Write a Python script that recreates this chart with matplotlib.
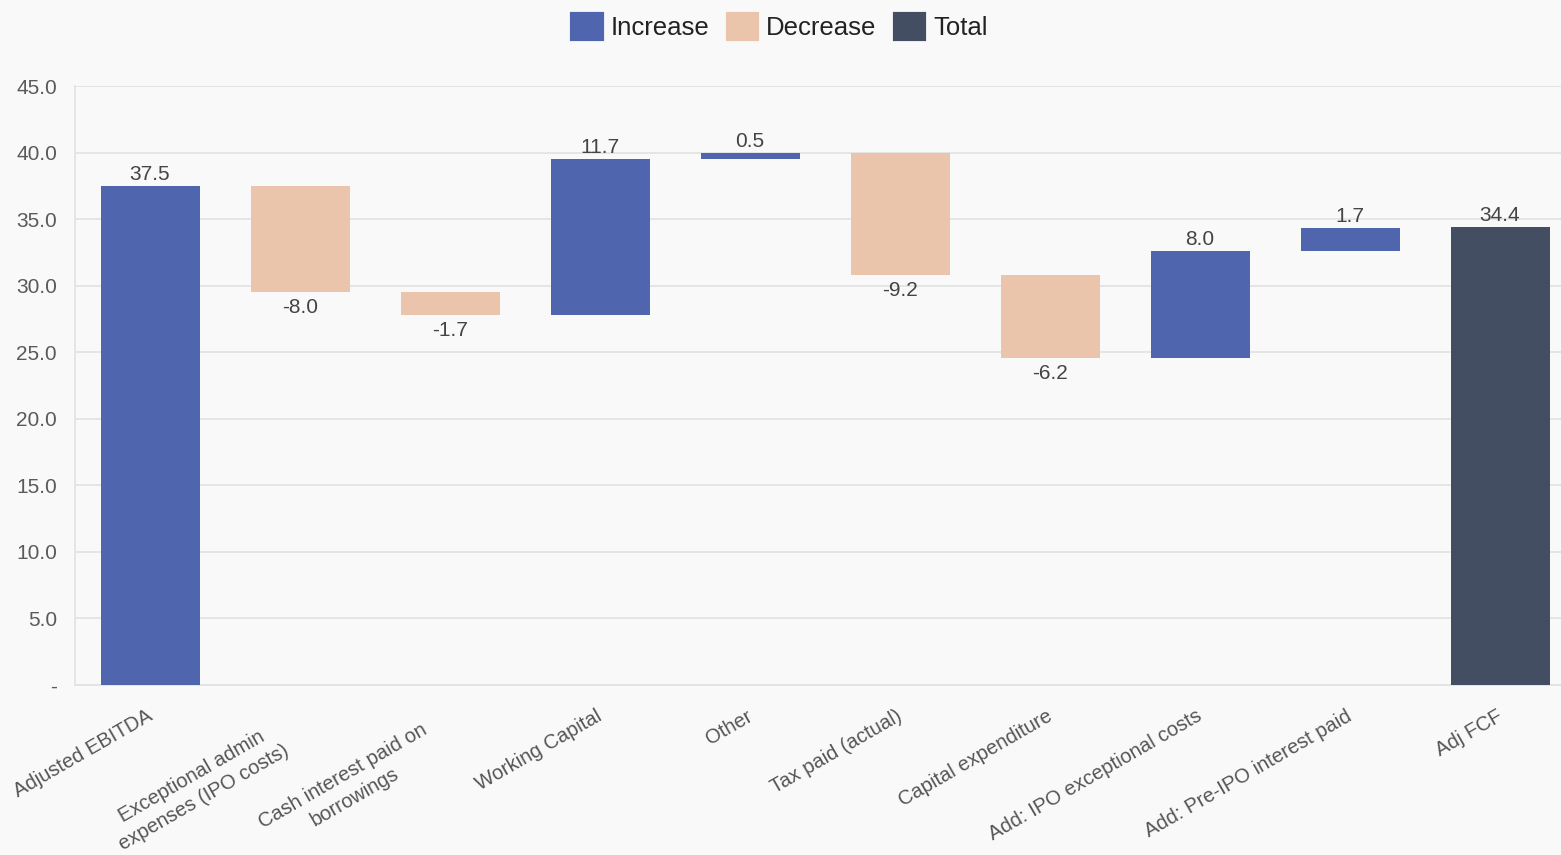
import matplotlib
matplotlib.use("Agg")
import matplotlib.pyplot as plt
import matplotlib.transforms as mtransforms
from matplotlib.patches import Patch

categories = ["Adjusted EBITDA", "Exceptional admin\nexpenses (IPO costs)", "Cash interest paid on\nborrowings",
              "Working Capital", "Other", "Tax paid (actual)", "Capital expenditure",
              "Add: IPO exceptional costs", "Add: Pre-IPO interest paid", "Adj FCF"]
values = [37.5, -8.0, -1.7, 11.7, 0.5, -9.2, -6.2, 8.0, 1.7, 34.4]
kinds = ["total_start", "dec", "dec", "inc", "inc", "dec", "dec", "inc", "inc", "total"]
yticks = [0, 5, 10, 15, 20, 25, 30, 35, 40, 45]
ytick_labels = ["-", "5.0", "10.0", "15.0", "20.0", "25.0", "30.0", "35.0", "40.0", "45.0"]

C_INC = "#4F65AE"
C_DEC = "#EAC5AB"
C_TOT = "#434E63"
BG = "#F9F9F9"

plt.rcParams['font.family'] = ['Liberation Sans', 'DejaVu Sans']

fig = plt.figure(figsize=(15.61, 8.55), dpi=100, facecolor=BG)
ax = fig.add_axes([75/1561, 170/855, 1500/1561, 599/855])
ax.set_facecolor(BG)

bottoms, heights, colors = [], [], []
run = 0.0
for v, k in zip(values, kinds):
    if k == "total_start":
        bottoms.append(0); heights.append(v); colors.append(C_INC); run = v
    elif k == "total":
        bottoms.append(0); heights.append(v); colors.append(C_TOT)
    elif k == "inc":
        bottoms.append(run); heights.append(v); colors.append(C_INC); run += v
    else:
        bottoms.append(run + v); heights.append(-v); colors.append(C_DEC); run += v

x = list(range(len(values)))
ax.bar(x, heights, bottom=bottoms, width=0.66, color=colors, zorder=3)

for xi, v, b, h, k in zip(x, values, bottoms, heights, kinds):
    if k == "dec":
        ax.text(xi, b - 0.45, f"{v:.1f}", ha="center", va="top", fontsize=15, color="#444444")
    else:
        ax.text(xi, b + h + 0.15, f"{v:.1f}", ha="center", va="bottom", fontsize=15, color="#444444")

ax.set_xlim(-0.5, 9.5)
ax.set_ylim(0, 45)
ax.set_yticks(yticks)
ax.set_yticklabels(ytick_labels, fontsize=15, color="#5A5A5A")
ax.yaxis.grid(True, color="#E2E2E2", linewidth=1.2, zorder=0)
ax.set_axisbelow(True)
ax.tick_params(axis="y", length=0, pad=13)
ax.set_xticks(x)
ax.set_xticklabels([])
ax.tick_params(axis="x", length=0)

blend = mtransforms.blended_transform_factory(ax.transData, ax.transAxes)
for xi, lab in zip(x, categories):
    if "\n" in lab:
        dx, dy = -21.0, -25.5
    else:
        dx, dy = -2.9, -15.5
    tr = blend + mtransforms.ScaledTranslation(dx / 72, dy / 72, fig.dpi_scale_trans)
    ax.text(xi, 0, lab, transform=tr, rotation=30, rotation_mode="anchor",
            ha="right", va="top", multialignment="center", linespacing=1.35,
            fontsize=14.5, color="#555555", clip_on=False)

for s in ["top", "right"]:
    ax.spines[s].set_visible(False)
ax.spines["left"].set_color("#E2E2E2")
ax.spines["bottom"].set_color("#E2E2E2")
ax.spines["left"].set_linewidth(1.2)
ax.spines["bottom"].set_linewidth(1.2)

handles = [Patch(facecolor=c, edgecolor=c, linewidth=3, joinstyle="round", label=l)
           for c, l in [(C_INC, "Increase"), (C_DEC, "Decrease"), (C_TOT, "Total")]]
fig.legend(handles=handles, loc="center", bbox_to_anchor=(780/1561, 1 - 27/855), ncol=3,
           frameon=False, fontsize=18.5, handlelength=1.15, handleheight=1.1,
           handletextpad=0.35, columnspacing=0.7, labelcolor="#222222")

fig.savefig("out.png", dpi=100, facecolor=BG)
